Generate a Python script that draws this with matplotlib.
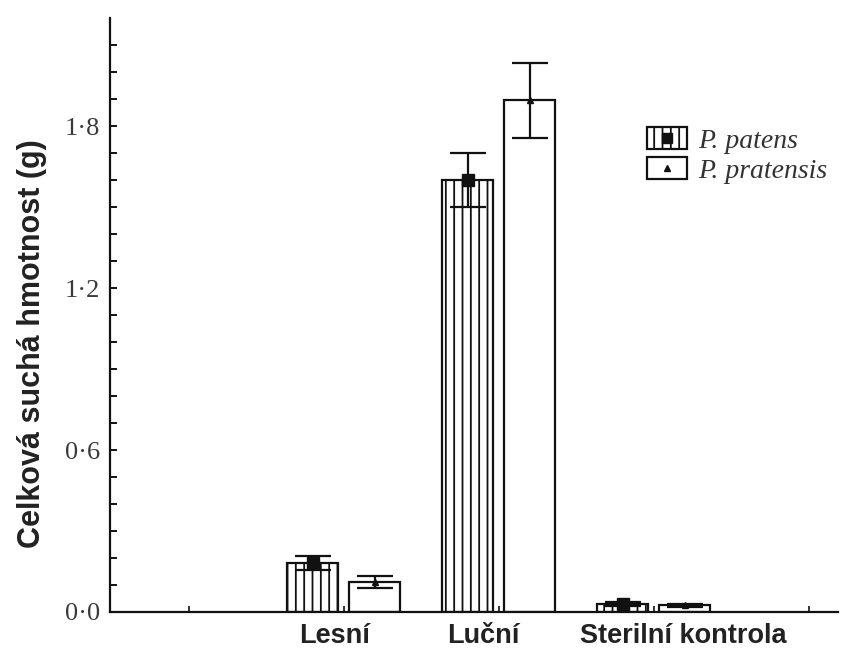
import matplotlib
matplotlib.use("Agg")
import matplotlib.pyplot as plt
import matplotlib.transforms as mtransforms
from matplotlib.patches import Patch
from matplotlib.lines import Line2D
import numpy as np

# Total dry mass per soil inoculum treatment
categories = ["Lesní", "Luční", "Sterilní kontrola"]
cat_pos = [1, 2, 3]
label_shift = [-0.06, -0.10, 0.19]

patens_mean = [0.18, 1.60, 0.030]
patens_err = [0.026, 0.10, 0.006]
pratensis_mean = [0.11, 1.895, 0.025]
pratensis_err = [0.022, 0.14, 0.005]

series_names = ["P. patens", "P. pratensis"]
y_ticks = [0.0, 0.6, 1.2, 1.8]
y_tick_labels = ["0·0", "0·6", "1·2", "1·8"]

plt.rcParams["hatch.linewidth"] = 1.3

fig = plt.figure(figsize=(8.49, 6.57), dpi=100)
ax = fig.add_axes([0.1296, 0.0685, 0.8574, 0.904])

width = 0.33
off = 0.2
x = np.array(cat_pos, dtype=float)

ax.bar(x - off, patens_mean, width, facecolor="white", edgecolor="#111111",
       linewidth=1.6, hatch="||", zorder=2)
ax.bar(x + off, pratensis_mean, width, facecolor="white", edgecolor="#111111",
       linewidth=1.6, zorder=2)

ax.errorbar(x - off, patens_mean, yerr=patens_err, fmt="s", color="#111111",
            markersize=8, capsize=13, elinewidth=1.6, capthick=1.6, zorder=3)
ax.errorbar(x + off, pratensis_mean, yerr=pratensis_err, fmt="^", color="#111111",
            markersize=4, capsize=13, elinewidth=1.6, capthick=1.6, zorder=3)

ax.set_xlim(-0.51, 4.19)
ax.set_ylim(0, 2.2)

for side in ("top", "right"):
    ax.spines[side].set_visible(False)
for side in ("left", "bottom"):
    ax.spines[side].set_linewidth(1.6)
    ax.spines[side].set_color("#111111")

ax.set_yticks(y_ticks)
ax.set_yticklabels(y_tick_labels, fontfamily="Liberation Serif", fontsize=19,
                   color="#3a3a3a")
ax.set_yticks(np.arange(0, 2.15, 0.1), minor=True)
ax.tick_params(axis="y", which="both", direction="in", length=5, width=1.4,
               pad=7, color="#111111")

ax.set_xticks([0, 1, 2, 3, 4])
ax.set_xticklabels([])
ax.tick_params(axis="x", direction="in", length=4, width=1.2, color="#111111")

trans = mtransforms.blended_transform_factory(ax.transData, ax.transAxes)
for pos, name, shift in zip(cat_pos, categories, label_shift):
    ax.text(pos + shift, -0.018, name, transform=trans, ha="center", va="top",
            fontfamily="Liberation Sans", fontweight="bold", fontsize=19.5,
            color="#222222")

ax.set_ylabel("Celková suchá hmotnost (g)", fontfamily="Liberation Sans",
              fontweight="bold", fontsize=22, color="#222222")
ax.yaxis.set_label_coords(-0.086, 0.452)

handles = [
    (Patch(facecolor="white", edgecolor="#111111", hatch="||", linewidth=1.6),
     Line2D([], [], marker="s", color="#111111", linestyle="none", markersize=7)),
    (Patch(facecolor="white", edgecolor="#111111", linewidth=1.6),
     Line2D([], [], marker="^", color="#111111", linestyle="none", markersize=4)),
]
leg = ax.legend(handles, series_names, loc="upper left",
                bbox_to_anchor=(0.722, 0.835), frameon=False,
                prop={"family": "Liberation Serif", "style": "italic", "size": 20},
                handlelength=1.45, handleheight=0.85, handletextpad=0.42,
                labelspacing=0.12, borderaxespad=0)
for t in leg.get_texts():
    t.set_color("#333333")

fig.savefig("out.png", dpi=100)
plt.close(fig)
